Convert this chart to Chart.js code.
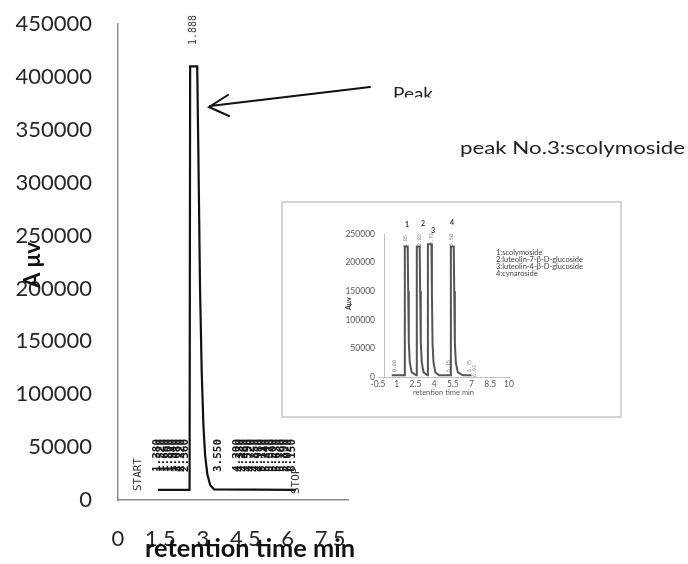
<!DOCTYPE html>
<html>
<head>
<meta charset="utf-8">
<script src="https://cdn.jsdelivr.net/npm/chart.js@4.4.1/dist/chart.umd.min.js"></script>
<style>
  html, body { margin: 0; padding: 0; background: #fff; }
  #wrap { position: relative; width: 688px; height: 564px; overflow: hidden; }
  #main { position: absolute; left: 0; top: 0; }
  #insetBox { position: absolute; left: 281px; top: 201px; width: 341px; height: 217px;
              border: 2px solid #d4d4d4; box-sizing: border-box; background: #fff; }
  #inset { position: absolute; left: 0; top: 0; }
</style>
</head>
<body>
<div id="wrap">
  <canvas id="main" width="688" height="564" style="width:688px;height:564px"></canvas>
  <div id="insetBox"><canvas id="inset" width="337" height="213" style="width:337px;height:213px"></canvas></div>
</div>
<script>
// main chromatogram: retention time (min) vs signal (µV)
const mainTimes  = [1.41, 2.53, 2.55, 2.80, 2.84, 2.90, 2.96, 3.02, 3.08, 3.16, 3.26, 3.40, 6.29];
const mainSignal = [9500, 9500, 410000, 410000, 330000, 200000, 120000, 70000, 42000, 24000, 14000, 10000, 9500];
const mainXRange = [0, 8.13];
const mainXStep = 1.5;
const mainYRange = [0, 450000];
const mainYStep = 50000;

// printed peak-time labels of the main trace
const mainPeakTime = 2.68;
const mainPeakText = '1.888';
const leftLabelTimes  = [1.38, 1.52, 1.66, 1.80, 1.94, 2.08, 2.22, 2.36];
const rightLabelTimes = [3.55, 4.20, 4.33, 4.46, 4.59, 4.72, 4.85, 4.98, 5.11, 5.24, 5.37, 5.50, 5.63, 5.76, 5.89, 6.02, 6.15];

// inset: standard mix chromatogram
const insetTimes  = [0.6, 1.62, 1.65, 1.88, 1.92, 1.97, 2.05, 2.2, 2.58, 2.61, 2.84, 2.88, 2.93, 3.01, 3.15, 3.47, 3.50, 3.78, 3.82, 3.87, 3.95, 4.1, 4.4, 5.31, 5.34, 5.57, 5.61, 5.66, 5.74, 5.9, 6.3, 7.0];
const insetSignal = [3000, 3000, 228000, 228000, 150000, 60000, 25000, 8000, 3000, 228000, 228000, 150000, 60000, 25000, 8000, 3000, 232000, 232000, 150000, 60000, 25000, 8000, 3000, 3000, 228000, 228000, 150000, 60000, 25000, 8000, 3000, 3000];
const insetXRange = [-0.5, 10];
const insetXStep = 1.5;
const insetYRange = [0, 250000];
const insetYStep = 50000;
const insetPeakNames = ['1:scolymoside', '2:luteolin-7-β-D-glucoside', '3:luteolin-4-β-D-glucoside', '4:cynaroside'];
const insetPeakTexts = ['1.85', '2.82', '3.73', '5.50'];

const fmt = v => String(Number(v.toFixed(2)));

// draw text, optionally squeezed/stretched to a width and rotated
function drawText(ctx, text, x, y, opts) {
  ctx.save();
  ctx.font = opts.font;
  ctx.fillStyle = opts.color || '#000';
  ctx.textAlign = 'left';
  ctx.textBaseline = opts.baseline || 'alphabetic';
  ctx.translate(x, y);
  if (opts.rotate) ctx.rotate(-Math.PI / 2);
  if (opts.width) {
    const w = ctx.measureText(text).width;
    ctx.scale(opts.width / w, 1);
  }
  ctx.fillText(text, 0, 0);
  ctx.restore();
}

const mainNotes = {
  id: 'mainNotes',
  afterDraw(chart) {
    const { ctx, scales: { x } } = chart;
    const mono = '11px "DejaVu Sans Mono"';
    const monoBold = 'bold 11px "DejaVu Sans Mono"';

    // axis titles
    drawText(ctx, 'A μv', 40, 288, { font: 'bold 22px Lato', color: '#111', width: 46, rotate: true });
    drawText(ctx, 'retention time min', 145, 557, { font: 'bold 24px Lato', color: '#111', width: 210 });

    // printed labels from the integrator trace
    drawText(ctx, mainPeakText, x.getPixelForValue(mainPeakTime), 45,
      { font: '10px "DejaVu Sans Mono"', color: '#333', baseline: 'middle', rotate: true });
    drawText(ctx, 'START', 138, 491, { font: mono, color: '#333', baseline: 'middle', rotate: true });
    leftLabelTimes.forEach(t => {
      drawText(ctx, t.toFixed(3), x.getPixelForValue(t), 472, { font: monoBold, color: '#1a1a1a', baseline: 'middle', rotate: true });
    });
    rightLabelTimes.forEach(t => {
      drawText(ctx, t.toFixed(3), x.getPixelForValue(t), 472, { font: monoBold, color: '#1a1a1a', baseline: 'middle', rotate: true });
    });
    drawText(ctx, 'STOP', 296, 494, { font: mono, color: '#333', baseline: 'middle', rotate: true });

    // arrow pointing at the peak
    ctx.save();
    ctx.strokeStyle = '#111';
    ctx.lineWidth = 2;
    ctx.lineCap = 'round';
    ctx.beginPath();
    ctx.moveTo(370, 87);
    ctx.lineTo(210, 106);
    ctx.moveTo(228, 95);
    ctx.lineTo(209, 107);
    ctx.lineTo(229, 116);
    ctx.stroke();
    ctx.restore();

    // "Peak" text box is cut at its bottom
    ctx.save();
    ctx.beginPath();
    ctx.rect(380, 60, 120, 37.5);
    ctx.clip();
    drawText(ctx, 'Peak', 393, 99.5, { font: '17px Lato', color: '#222', width: 40 });
    ctx.restore();

    drawText(ctx, 'peak No.3:scolymoside', 460, 154, { font: '18px Lato', color: '#222', width: 225 });
  }
};

new Chart(document.getElementById('main'), {
  type: 'line',
  data: {
    datasets: [{
      data: mainTimes.map((t, i) => ({ x: t, y: mainSignal[i] })),
      borderColor: '#111',
      borderWidth: 2.2,
      pointRadius: 0,
      tension: 0,
      fill: false
    }]
  },
  options: {
    responsive: false,
    animation: false,
    layout: { padding: { left: 0, top: 24, right: 340, bottom: 0 } },
    plugins: { legend: { display: false }, tooltip: { enabled: false } },
    scales: {
      x: {
        type: 'linear',
        min: mainXRange[0],
        max: mainXRange[1],
        grid: { display: false, drawTicks: false },
        border: { display: true, color: '#8c8c8c', width: 1.5 },
        ticks: {
          stepSize: mainXStep, includeBounds: false, autoSkip: false, maxRotation: 0,
          padding: 26, color: '#262626', font: { family: 'Lato', size: 22 },
          callback: v => fmt(v)
        },
        afterFit(scale) { scale.height = 64; }
      },
      y: {
        min: mainYRange[0],
        max: mainYRange[1],
        grid: { display: false, drawTicks: false },
        border: { display: true, color: '#8c8c8c', width: 1.5 },
        ticks: {
          stepSize: mainYStep, padding: 26, color: '#262626', font: { family: 'Lato', size: 22 },
          callback: v => String(v)
        },
        afterFit(scale) {
          scale.width = 118;
          // tick padding would otherwise push the plot top down
          scale.paddingTop = 0;
          scale.paddingBottom = 0;
        }
      }
    }
  },
  plugins: [mainNotes]
});

const insetNotes = {
  id: 'insetNotes',
  afterDraw(chart) {
    const { ctx } = chart;
    const tiny = '5px "DejaVu Sans Mono"';
    insetPeakNames.forEach((name, i) => {
      drawText(ctx, name, 213, 50 + i * 7, { font: '7.5px Lato', color: '#444', baseline: 'middle' });
    });
    // peak numbers above the peaks
    const nums = [[124, 24], [140, 23], [150, 30], [169, 22]];
    nums.forEach((p, i) => {
      drawText(ctx, String(i + 1), p[0] - 2, p[1], { font: 'bold 7px Lato', color: '#333' });
    });
    const tops = [[123, 44], [137, 43], [149, 42], [169, 43]];
    tops.forEach((p, i) => {
      drawText(ctx, insetPeakTexts[i], p[0], p[1], { font: tiny, color: '#777', baseline: 'middle', rotate: true });
    });
    drawText(ctx, '0.88', 112, 169, { font: tiny, color: '#777', baseline: 'middle', rotate: true });
    drawText(ctx, '5.15', 166, 169, { font: tiny, color: '#777', baseline: 'middle', rotate: true });
    drawText(ctx, '6.75', 187, 169, { font: tiny, color: '#888', baseline: 'middle', rotate: true });
    drawText(ctx, '6.93', 192, 174, { font: tiny, color: '#888', baseline: 'middle', rotate: true });
    drawText(ctx, 'Aμv', 68, 107, { font: 'bold 7px Lato', color: '#333', rotate: true });
  }
};

new Chart(document.getElementById('inset'), {
  type: 'line',
  data: {
    datasets: [{
      data: insetTimes.map((t, i) => ({ x: t, y: insetSignal[i] })),
      borderColor: '#555',
      borderWidth: 2,
      pointRadius: 0,
      tension: 0,
      fill: false
    }]
  },
  options: {
    responsive: false,
    animation: false,
    layout: { padding: { left: 0, top: 31, right: 111, bottom: 0 } },
    plugins: { legend: { display: false }, tooltip: { enabled: false } },
    scales: {
      x: {
        type: 'linear',
        min: insetXRange[0],
        max: insetXRange[1],
        afterBuildTicks(scale) {
          // extra tick at 0 carries the vertical axis line
          scale.ticks.push({ value: 0 });
          scale.ticks.sort((a, b) => a.value - b.value);
        },
        grid: {
          display: true, drawTicks: false, lineWidth: 1,
          color: c => (c.tick && c.tick.value === 0 ? '#bfbfbf' : 'rgba(0,0,0,0)')
        },
        border: { display: true, color: '#bfbfbf', width: 1 },
        ticks: {
          stepSize: insetXStep, autoSkip: false, maxRotation: 0,
          padding: 2, color: '#595959', font: { family: 'Lato', size: 8.5 },
          callback: v => (v === 0 ? '' : fmt(v))
        },
        title: {
          display: true, text: 'retention time min', color: '#595959',
          font: { family: 'Lato', size: 7.5 }, padding: { top: 0, bottom: 19 }
        },
        afterFit(scale) { scale.height = 39; }
      },
      y: {
        min: insetYRange[0],
        max: insetYRange[1],
        grid: { display: false, drawTicks: false },
        border: { display: false },
        ticks: {
          stepSize: insetYStep, padding: 3, color: '#595959', font: { family: 'Lato', size: 8.5 },
          callback: v => String(v)
        },
        afterFit(scale) { scale.width = 95; }
      }
    }
  },
  plugins: [insetNotes]
});
</script>
</body>
</html>
